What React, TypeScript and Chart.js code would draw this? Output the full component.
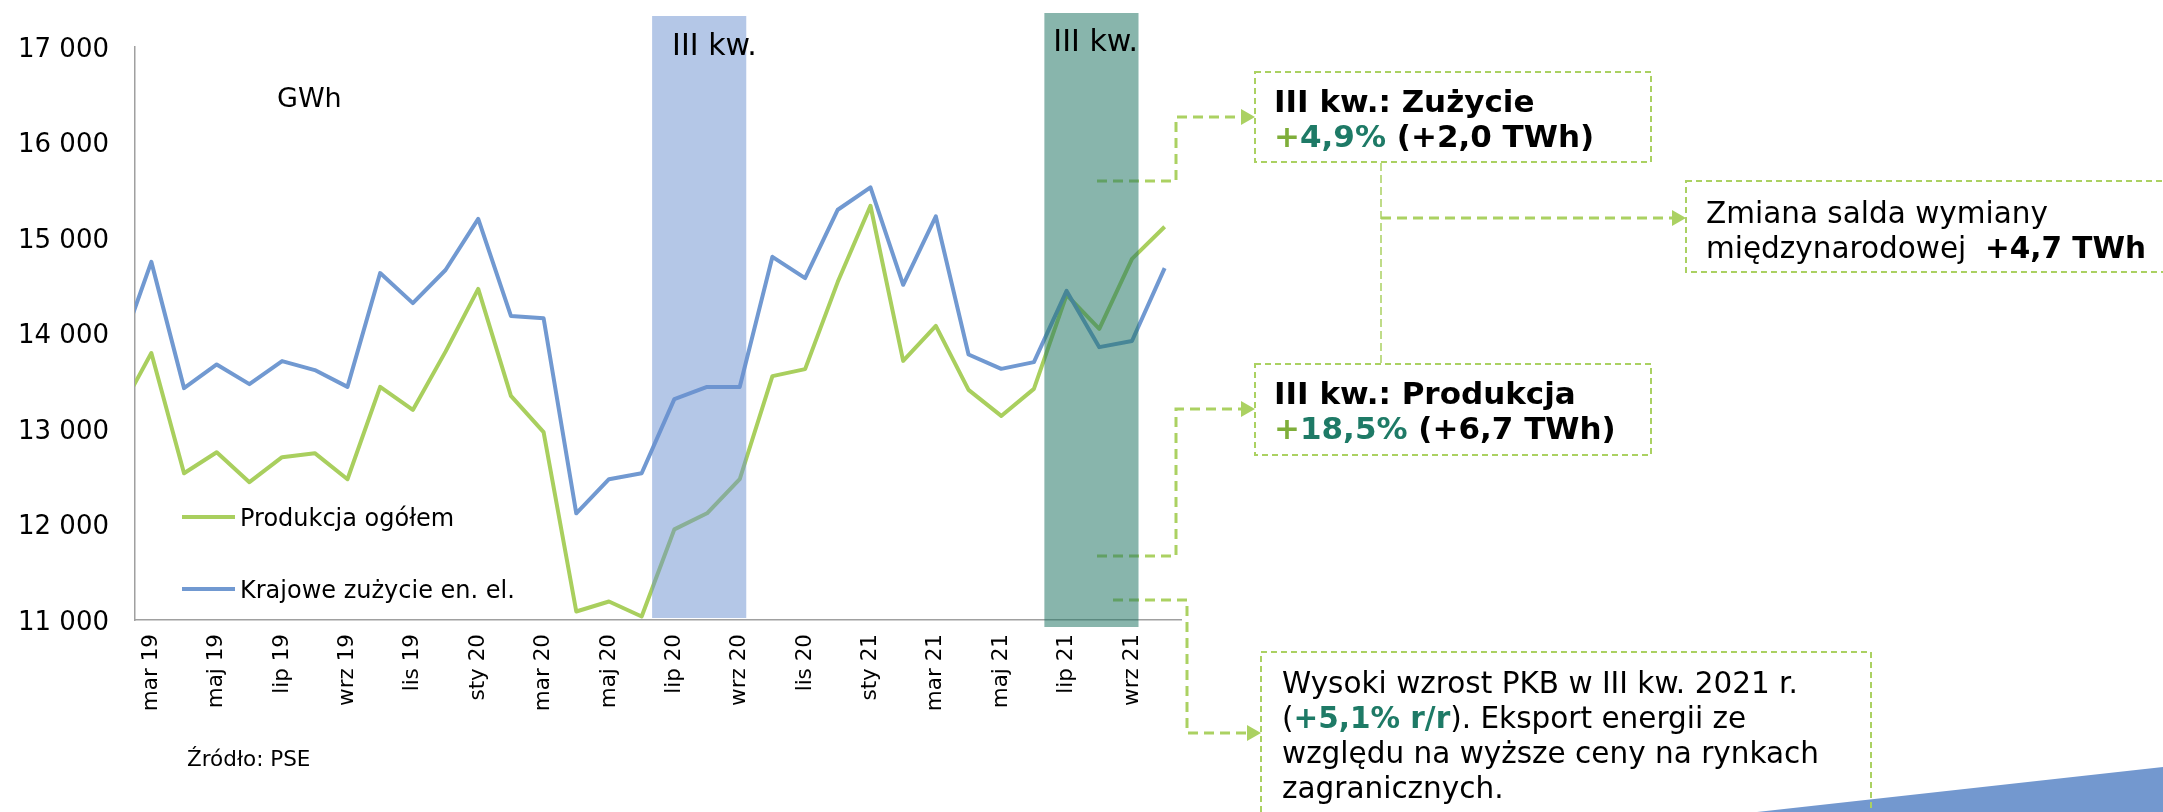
import React, { useEffect, useRef } from 'react';
import { Chart, registerables } from 'chart.js';

Chart.register(...registerables);

// ---------- data ----------
const MONTHS = [
  'lut 19', 'mar 19', 'kwi 19', 'maj 19', 'cze 19', 'lip 19', 'sie 19', 'wrz 19', 'paź 19', 'lis 19', 'gru 19',
  'sty 20', 'lut 20', 'mar 20', 'kwi 20', 'maj 20', 'cze 20', 'lip 20', 'sie 20', 'wrz 20', 'paź 20', 'lis 20', 'gru 20',
  'sty 21', 'lut 21', 'mar 21', 'kwi 21', 'maj 21', 'cze 21', 'lip 21', 'sie 21', 'wrz 21', 'paź 21',
];
const PRODUCTION = [
  13166, 13795, 12537, 12757, 12443, 12705, 12747, 12474, 13441, 13200, 13810,
  14467, 13347, 12967, 11089, 11194, 11037, 11949, 12117, 12474, 13554, 13627, 14541,
  15338, 13713, 14080, 13409, 13137, 13420, 14404, 14048, 14782, 15118,
];
const CONSUMPTION = [
  13785, 14750, 13428, 13676, 13470, 13711, 13617, 13441, 14633, 14318, 14665,
  15200, 14184, 14160, 12117, 12474, 12537, 13313, 13440, 13440, 14803, 14580, 15296,
  15530, 14510, 15226, 13780, 13630, 13700, 14446, 13857, 13921, 14685,
];
const SERIES_NAMES = ['Produkcja ogółem', 'Krajowe zużycie en. el.'];
const Y_MIN = 11000;
const Y_MAX = 17000;
const Y_STEP = 1000;
const Q3_BANDS = [
  { from: 'lip 20', to: 'wrz 20', label: 'III kw.' },
  { from: 'lip 21', to: 'wrz 21', label: 'III kw.' },
];
const UNIT_LABEL = 'GWh';
const SOURCE_LABEL = 'Źródło: PSE';

// annotation texts (runs: text, bold, colour key)
type Run = { t: string; b?: boolean; c?: string };
const TXT_CONSUMPTION: Run[][] = [
  [{ t: 'III kw.: Zużycie', b: true }],
  [{ t: '+', b: true, c: 'plus' }, { t: '4,9%', b: true, c: 'teal' }, { t: ' (+2,0 TWh)', b: true }],
];
const TXT_PRODUCTION: Run[][] = [
  [{ t: 'III kw.: Produkcja', b: true }],
  [{ t: '+', b: true, c: 'plus' }, { t: '18,5%', b: true, c: 'teal' }, { t: ' (+6,7 TWh)', b: true }],
];
const TXT_BALANCE: Run[][] = [
  [{ t: 'Zmiana salda wymiany' }],
  [{ t: 'międzynarodowej  ' }, { t: '+4,7 TWh', b: true }],
];
const TXT_GDP: Run[][] = [
  [{ t: 'Wysoki wzrost PKB w III kw. 2021 r.' }],
  [{ t: '(' }, { t: '+5,1% r/r', b: true, c: 'teal' }, { t: '). Eksport energii ze' }],
  [{ t: 'względu na wyższe ceny na rynkach' }],
  [{ t: 'zagranicznych.' }],
];

// ---------- styles ----------
const FONT = '"DejaVu Sans", Verdana, sans-serif';
const GREEN_LINE = '#A9CF5E';
const BLUE_LINE = '#7199D1';
const DASH_GREEN = '#ABD162';
const AXIS_GREY = '#A0A0A0';
const COLORS: Record<string, string> = { plus: '#7FAE3A', teal: '#1E7A66', def: '#000000' };
const BAND_STYLE = [
  { fill: 'rgba(106,143,207,0.5)', top: 16, bottom: 618, labelDx: 20, labelY: 44 },
  { fill: 'rgba(35,118,102,0.54)', top: 13, bottom: 627, labelDx: 9, labelY: 40 },
];

const fmt = (v: number) => String(v).replace(/\B(?=(\d{3})+(?!\d))/g, ' ');

function drawRuns(ctx: CanvasRenderingContext2D, x: number, cy: number, runs: Run[], size: number) {
  let cx = x;
  const base = cy + size * 0.36;
  for (const r of runs) {
    ctx.font = `${r.b ? 'bold ' : ''}${size}px ${FONT}`;
    ctx.fillStyle = COLORS[r.c || 'def'];
    ctx.textAlign = 'left';
    ctx.textBaseline = 'alphabetic';
    ctx.fillText(r.t, cx, base);
    cx += ctx.measureText(r.t).width;
  }
}

function dashed(ctx: CanvasRenderingContext2D, pts: number[][], width: number, dash: number[], color = DASH_GREEN) {
  ctx.save();
  ctx.beginPath();
  ctx.setLineDash(dash);
  ctx.strokeStyle = color;
  ctx.lineWidth = width;
  ctx.moveTo(pts[0][0], pts[0][1]);
  for (let i = 1; i < pts.length; i++) ctx.lineTo(pts[i][0], pts[i][1]);
  ctx.stroke();
  ctx.restore();
}

function arrowRight(ctx: CanvasRenderingContext2D, tipX: number, tipY: number) {
  ctx.save();
  ctx.fillStyle = DASH_GREEN;
  ctx.beginPath();
  ctx.moveTo(tipX, tipY);
  ctx.lineTo(tipX - 14, tipY - 8);
  ctx.lineTo(tipX - 14, tipY + 8);
  ctx.closePath();
  ctx.fill();
  ctx.restore();
}

function box(ctx: CanvasRenderingContext2D, x: number, y: number, w: number, h: number) {
  ctx.save();
  ctx.setLineDash([6, 4]);
  ctx.strokeStyle = DASH_GREEN;
  ctx.lineWidth = 2;
  ctx.strokeRect(x, y, w, h);
  ctx.restore();
}

const overlay = {
  id: 'overlay',
  afterDatasetsDraw(chart: any) {
    const ctx: CanvasRenderingContext2D = chart.ctx;
    const xs = chart.scales.x;

    // connectors (under the bands)
    dashed(ctx, [[1097, 181], [1176, 181], [1176, 117], [1242, 117]], 3, [10, 6]);
    arrowRight(ctx, 1255, 117);
    dashed(ctx, [[1097, 556], [1176, 556], [1176, 409], [1242, 409]], 3, [10, 6]);
    arrowRight(ctx, 1255, 409);
    dashed(ctx, [[1113, 600], [1187, 600], [1187, 733], [1248, 733]], 3, [10, 6]);
    arrowRight(ctx, 1261, 733);
    dashed(ctx, [[1381, 163], [1381, 364]], 1.5, [8, 4]);
    dashed(ctx, [[1381, 218], [1672, 218]], 3, [10, 6]);
    arrowRight(ctx, 1686, 218);

    // quarter bands
    const cw = xs.getPixelForValue(2) - xs.getPixelForValue(1);
    Q3_BANDS.forEach((b, i) => {
      const st = BAND_STYLE[i];
      const x0 = xs.getPixelForValue(MONTHS.indexOf(b.from)) - 0.68 * cw;
      const x1 = xs.getPixelForValue(MONTHS.indexOf(b.to)) + 0.2 * cw;
      ctx.save();
      ctx.fillStyle = st.fill;
      ctx.fillRect(x0, st.top, x1 - x0, st.bottom - st.top);
      ctx.restore();
      drawRuns(ctx, x0 + st.labelDx, st.labelY, [{ t: b.label }], 30);
    });

    // unit + source
    drawRuns(ctx, 277, 97, [{ t: UNIT_LABEL }], 27);
    drawRuns(ctx, 187, 758, [{ t: SOURCE_LABEL }], 21.5);

    // legend
    const legendOrder = [1, 0];
    const legendY = [517, 589];
    legendOrder.forEach((di, k) => {
      const ds = chart.data.datasets[di];
      ctx.save();
      ctx.strokeStyle = ds.borderColor;
      ctx.lineWidth = 4;
      ctx.beginPath();
      ctx.moveTo(182, legendY[k]);
      ctx.lineTo(235, legendY[k]);
      ctx.stroke();
      ctx.restore();
      drawRuns(ctx, 240, legendY[k], [{ t: ds.label }], 24);
    });

    // decorative triangle bottom right
    ctx.save();
    ctx.fillStyle = '#7398CF';
    ctx.beginPath();
    ctx.moveTo(1757, 812);
    ctx.lineTo(2163, 767);
    ctx.lineTo(2163, 812);
    ctx.closePath();
    ctx.fill();
    ctx.restore();

    // boxes
    box(ctx, 1255, 72, 396, 90);
    TXT_CONSUMPTION.forEach((l, i) => drawRuns(ctx, 1274, 101 + i * 35, l, 31));
    box(ctx, 1255, 364, 396, 91);
    TXT_PRODUCTION.forEach((l, i) => drawRuns(ctx, 1274, 393 + i * 35, l, 31));
    box(ctx, 1686, 181, 500, 91);
    TXT_BALANCE.forEach((l, i) => drawRuns(ctx, 1706, 212 + i * 35, l, 29.5));
    box(ctx, 1261, 652, 610, 200);
    TXT_GDP.forEach((l, i) => drawRuns(ctx, 1282, 682 + i * 35, l, 29.5));
  },
};

export default function App() {
  const ref = useRef<HTMLCanvasElement>(null);
  useEffect(() => {
    const canvas = ref.current as HTMLCanvasElement;
    const chart = new Chart(canvas, {
      type: 'line',
      data: {
        labels: MONTHS,
        datasets: [
          {
            label: SERIES_NAMES[1], data: CONSUMPTION, borderColor: BLUE_LINE, borderWidth: 4,
            pointRadius: 0, tension: 0, order: 0, fill: false, borderJoinStyle: 'round',
            clip: { left: 0, top: 6, right: 6, bottom: 6 },
          },
          {
            label: SERIES_NAMES[0], data: PRODUCTION, borderColor: GREEN_LINE, borderWidth: 4,
            pointRadius: 0, tension: 0, order: 1, fill: false, borderJoinStyle: 'round',
            clip: { left: 0, top: 6, right: 6, bottom: 6 },
          },
        ],
      },
      options: {
        responsive: false,
        animation: false,
        devicePixelRatio: 1,
        layout: { autoPadding: false, padding: { left: 0, top: 47, right: 982, bottom: 0 } },
        plugins: { legend: { display: false }, tooltip: { enabled: false } },
        scales: {
          x: {
            type: 'category',
            min: MONTHS[1],
            max: MONTHS[MONTHS.length - 1],
            offset: true,
            grid: { display: false, drawTicks: false },
            border: { display: true, color: AXIS_GREY, width: 1.5 },
            ticks: {
              autoSkip: false, minRotation: 90, maxRotation: 90, padding: 14, color: '#000',
              font: { family: FONT, size: 21.5 },
              callback: (value: any, index: number) => (index % 2 === 0 ? MONTHS[value] : ''),
            },
            afterFit: (s: any) => { s.height = 192; },
          },
          y: {
            min: Y_MIN,
            max: Y_MAX,
            grid: { display: false, drawTicks: false },
            border: { display: true, color: AXIS_GREY, width: 1.5 },
            ticks: {
              stepSize: Y_STEP, padding: 26, color: '#000', labelOffset: 3,
              font: { family: FONT, size: 26 },
              callback: (v: any) => fmt(Number(v)),
            },
            afterFit: (s: any) => { s.width = 135; },
          },
        },
      },
      plugins: [overlay],
    } as any);
    return () => chart.destroy();
  }, []);
  return (
    <div style={{ position: 'absolute', left: 0, top: 0, width: 2163, height: 812, background: '#fff', overflow: 'hidden' }}>
      <canvas ref={ref} width={2163} height={812} style={{ display: 'block', width: 2163, height: 812 }} />
    </div>
  );
}
